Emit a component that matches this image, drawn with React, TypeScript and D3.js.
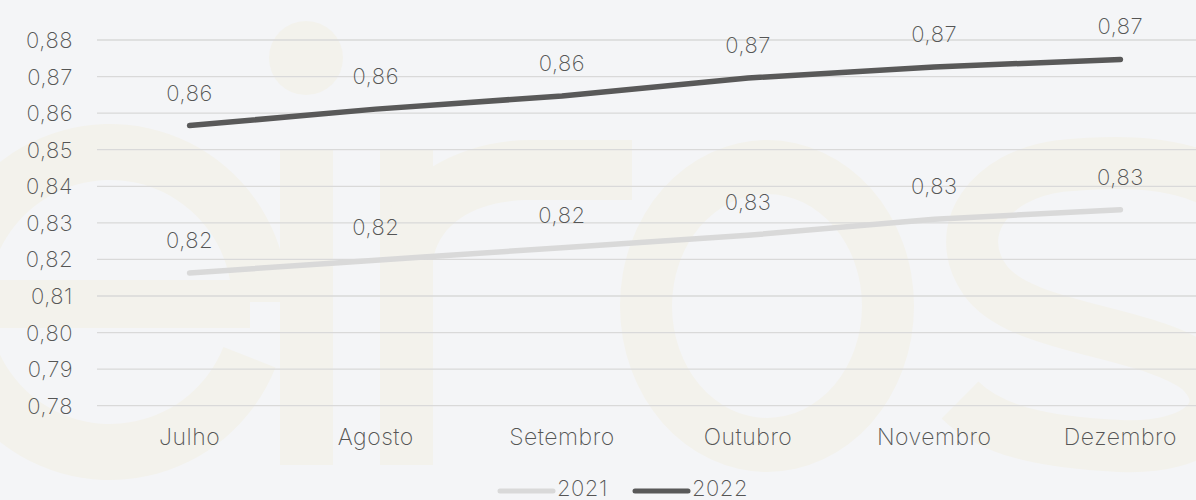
import React, { useEffect, useRef } from 'react';
import * as d3 from 'd3';

const months = ['Julho', 'Agosto', 'Setembro', 'Outubro', 'Novembro', 'Dezembro'];
const values2021 = [0.8163, 0.8198, 0.8232, 0.8266, 0.831, 0.8336];
const values2022 = [0.8566, 0.8611, 0.8647, 0.8696, 0.8726, 0.8747];
const yTicks = [0.78, 0.79, 0.8, 0.81, 0.82, 0.83, 0.84, 0.85, 0.86, 0.87, 0.88];

const series = [
  { name: '2021', values: values2021, color: '#d9d9d9' },
  { name: '2022', values: values2022, color: '#595959' },
];

const W = 1196;
const H = 500;
const FONT = 'Inter, "Open Sans", sans-serif';
const WEIGHT = 200;
const TEXT = '#555555';
const WATERMARK = '#f3f2ec';

const ptBR = d3.formatLocale({ decimal: ',', thousands: '.', grouping: [3], currency: ['R$', ''] });
const fmt = ptBR.format('.2f');

const App: React.FC = () => {
  const svgRef = useRef<SVGSVGElement>(null);

  useEffect(() => {
    document.body.style.margin = '0';
    if (!svgRef.current) return;

    const svg = d3.select(svgRef.current);
    svg.selectAll('*').remove();

    svg.append('rect').attr('width', W).attr('height', H).attr('fill', '#f4f5f7');

    // faint logo letters behind the chart
    const wm = svg.append('g').attr('fill', WATERMARK);
    const e = d3.arc<any>()
      .innerRadius(122)
      .outerRadius(178)
      .startAngle(Math.PI * 0.62)
      .endAngle(Math.PI * 2.5);
    wm.append('path').attr('d', e({})).attr('transform', 'translate(110,302)');
    wm.append('rect').attr('x', -70).attr('y', 280).attr('width', 320).attr('height', 48);
    wm.append('rect').attr('x', 280).attr('y', 150).attr('width', 53).attr('height', 315);
    wm.append('circle').attr('cx', 306).attr('cy', 58).attr('r', 37);
    wm.append('rect').attr('x', 380).attr('y', 150).attr('width', 53).attr('height', 315);
    wm.append('path')
      .attr('d', 'M380,230 C400,170 470,140 530,140 L632,140 L632,200 L530,200 C480,200 440,220 433,260 Z');
    wm.append('path')
      .attr('fill-rule', 'evenodd')
      .attr('d', 'M620,306 a147,166 0 1,0 294,0 a147,166 0 1,0 -294,0 Z M672,306 a95,112 0 1,0 190,0 a95,112 0 1,0 -190,0 Z');
    wm.append('path')
      .attr('fill', 'none')
      .attr('stroke', WATERMARK)
      .attr('stroke-width', 52)
      .attr('d', 'M1230,190 C1180,160 1120,160 1060,166 C990,175 950,230 985,280 C1020,330 1150,330 1200,370 C1240,410 1200,450 1120,446 C1040,442 990,430 960,400');

    const x = d3.scalePoint<string>().domain(months).range([96.5, 1213.5]).padding(0.5);
    const y = d3.scaleLinear().domain([0.78, 0.88]).range([405.7, 40]);

    // gridlines
    svg.append('g')
      .selectAll('line')
      .data(yTicks)
      .enter().append('line')
      .attr('x1', 97)
      .attr('x2', W)
      .attr('y1', (d) => y(d))
      .attr('y2', (d) => y(d))
      .attr('stroke', '#d9d9d9')
      .attr('stroke-width', 1.3);

    const label = (sel: any, size: number) =>
      sel.attr('font-family', FONT)
        .attr('font-weight', WEIGHT)
        .attr('font-size', size)
        .attr('letter-spacing', 0.5)
        .attr('fill', TEXT);

    // y tick labels
    svg.append('g')
      .selectAll('text')
      .data(yTicks)
      .enter().append('text')
      .attr('x', 73)
      .attr('y', (d) => y(d) + 8)
      .attr('text-anchor', 'end')
      .call(label, 22)
      .text((d) => fmt(d));

    // category labels
    svg.append('g')
      .selectAll('text')
      .data(months)
      .enter().append('text')
      .attr('x', (d) => x(d)!)
      .attr('y', 445)
      .attr('text-anchor', 'middle')
      .call(label, 23)
      .text((d) => d);

    const line = d3.line<number>()
      .x((_, i) => x(months[i])!)
      .y((d) => y(d));

    series.forEach((s) => {
      svg.append('path')
        .datum(s.values)
        .attr('fill', 'none')
        .attr('stroke', s.color)
        .attr('stroke-width', 5.5)
        .attr('stroke-linecap', 'round')
        .attr('stroke-linejoin', 'round')
        .attr('d', line);

      svg.append('g')
        .selectAll('text')
        .data(s.values)
        .enter().append('text')
        .attr('x', (_, i) => x(months[i])!)
        .attr('y', (d) => y(d) - 25)
        .attr('text-anchor', 'middle')
        .call(label, 22)
        .text((d) => fmt(d));
    });

    // legend
    const legend = svg.append('g');
    const legendX = [498, 633];
    series.forEach((s, i) => {
      legend.append('line')
        .attr('x1', legendX[i] + 2)
        .attr('x2', legendX[i] + 55)
        .attr('y1', 491)
        .attr('y2', 491)
        .attr('stroke', s.color)
        .attr('stroke-width', 5)
        .attr('stroke-linecap', 'round');
      legend.append('text')
        .attr('x', legendX[i] + 59)
        .attr('y', 496)
        .call(label, 22)
        .text(s.name);
    });
  }, []);

  return <svg ref={svgRef} width={W} height={H} style={{ display: 'block' }} />;
};

export default App;
